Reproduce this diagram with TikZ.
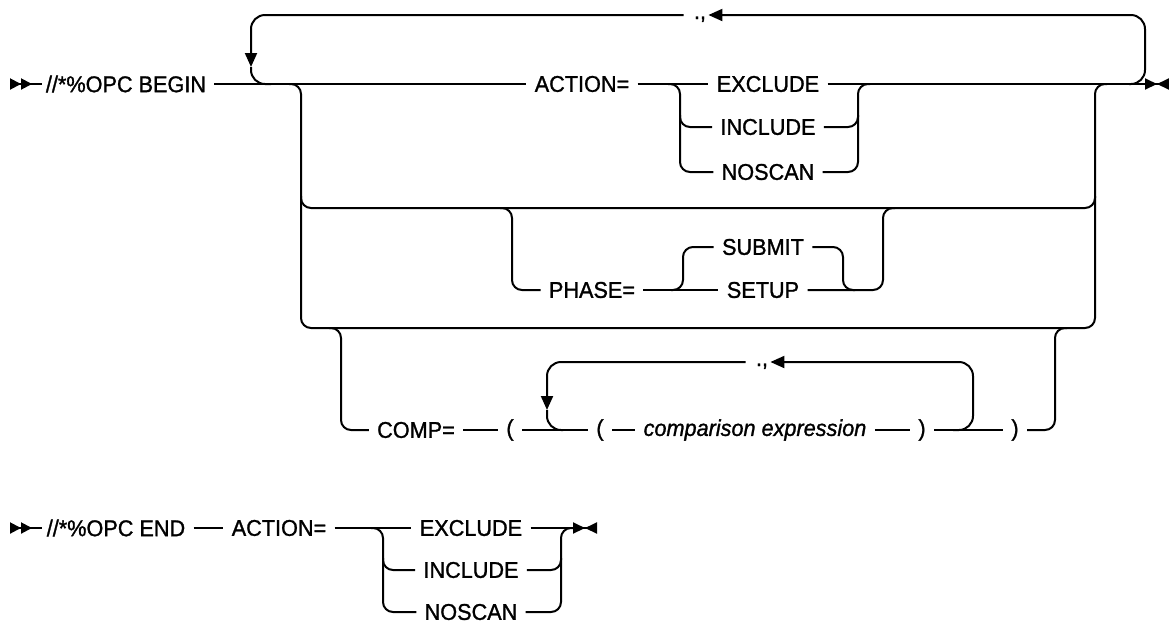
\documentclass[tikz,border=0pt]{standalone}
\usepackage{fontspec}
\setmainfont{Liberation Sans}[FakeStretch=0.95,FakeBold=1.2]
\usepackage{tikz}
\tikzset{kw/.style={inner sep=4pt,font=\fontsize{11.4}{13}\selectfont},
	punct/.style={inner sep=1pt,text height=4pt,text depth=0pt,font=\fontsize{11.4}{13}\selectfont},
	rail/.style={line width=1pt,rounded corners=5pt},
	bigrail/.style={line width=1pt,rounded corners=7pt},
	backarrow/.style={-{Triangle[length=7pt,width=6pt]}},
	startmark/.style={arrows={Triangle[reversed,length=5.5pt,width=5.5pt]Triangle[reversed,length=5.5pt,width=5.5pt]-}},
	endmark/.style={arrows={-Triangle[length=6pt,width=5.5pt]Triangle[reversed,length=6pt,width=5.5pt]}},
}
\usetikzlibrary{arrows.meta}

\begin{document}
\begin{tikzpicture}[x=0.5pt,y=-0.5pt]
	\useasboundingbox (0,0) rectangle (1169,623);
	
	%% //*%OPC BEGIN
	\coordinate (s1) at (10,84);
	\coordinate (s1e) at (42,84);
	\node[kw] (b1) at (126,84) {//*\%OPC BEGIN};
	\node[kw] (a1) at (582,84) {ACTION=};
	\node[kw] (ex1) at (768,84) {EXCLUDE};
	\node[kw] (in1) at (768,127) {INCLUDE};
	\node[kw] (no1) at (768,172) {NOSCAN};
	\node[punct] (c1) at (700,15) {.,};
	\coordinate (e1) at (1169,84);
	\coordinate (lpL) at (251,84);
	\coordinate (lpA) at (251,67);
	\coordinate (lpR) at (1145,84);
	\coordinate (sl) at (301,84);
	\coordinate (sr) at (1095,84);
	\coordinate (h1) at (680,84);
	\coordinate (h2) at (680,127);
	\coordinate (h3) at (858,84);
	\coordinate (h4) at (858,127);
	
	\draw[rail,startmark] (s1) -- (s1e);
	\path[draw,rail] (b1) edge (a1) (a1) edge (ex1);
	\draw[rail,endmark] (ex1) -- (e1);
	
	\draw[bigrail,backarrow] ([xshift=-8pt]lpR) -- (lpR) |- (c1);
	\draw[bigrail,backarrow] ([xshift=-4pt]c1.west) -| (lpA);
	\draw[bigrail] (lpA) |- ([xshift=10pt]lpL);
	
	\draw[rail] ([xshift=-6pt]h1) -- (h1) |- (no1);
	\draw[rail] ([yshift=6pt]h2) |- (in1);
	\draw[rail] (no1) -| (h3) -- ([xshift=6pt]h3);
	\draw[rail] (in1) -| ([yshift=6pt]h4);
	
	%% second and third choice
	\coordinate (p2L) at (301,208);
	\coordinate (p2R) at (1095,208);
	\coordinate (p4L) at (301,328);
	\coordinate (p4R) at (1095,328);
	\draw[rail] ([xshift=-6pt]sl) -- (sl) -- (p4L) -- (p4R) -- (sr) -- ([xshift=6pt]sr);
	\draw[rail] ([yshift=6pt]p2L) -- (p2L) -- (p2R) -- ([yshift=6pt]p2R);
	
	\node[kw] (ph) at (592,290) {PHASE=};
	\node[kw] (sub) at (763,247) {SUBMIT};
	\node[kw] (set) at (763,290) {SETUP};
	\coordinate (q1) at (512,208);
	\coordinate (q2) at (683,290);
	\coordinate (q3) at (843,290);
	\coordinate (q4) at (883,290);
	\coordinate (q5) at (883,208);
	
	\draw[rail] ([xshift=-6pt]q1) -- (q1) |- (ph);
	\path[draw,rail] (ph) edge (set);
	\draw[rail] ([xshift=-6pt]q2) -- (q2) |- (sub);
	\draw[rail] (sub) -| (q3) -- ([xshift=6pt]q3);
	\draw[rail] (set) -- (q4) -- (q5) -- ([xshift=6pt]q5);
	
	\node[kw] (cmp) at (416,430) {COMP=};
	\node[kw] (o1) at (510,430) {(};
	\node[kw] (o2) at (600,430) {(};
	\node[kw] (ce) at (755,430) {\itshape comparison expression};
	\node[kw] (cl1) at (922,430) {)};
	\node[kw] (cl2) at (1015,430) {)};
	\node[punct] (c2) at (762,362) {.,};
	\coordinate (k1) at (341,328);
	\coordinate (k2) at (1055,430);
	\coordinate (k3) at (1055,328);
	\coordinate (m1) at (547,430);
	\coordinate (m1a) at (547,410);
	\coordinate (m2) at (973,430);
	
	\draw[rail] ([xshift=-6pt]k1) -- (k1) |- (cmp);
	\path[draw,rail] (cmp) edge (o1) (o1) edge (o2) (o2) edge (ce)
	(ce) edge (cl1) (cl1) edge (cl2);
	\draw[rail] (cl2) -- (k2) -- (k3) -- ([xshift=6pt]k3);
	\draw[bigrail,backarrow] ([xshift=-10pt]m2) -- (m2) |- (c2);
	\draw[bigrail,backarrow] ([xshift=-4pt]c2.west) -| (m1a);
	\draw[bigrail] (m1a) |- ([xshift=8pt]m1);
	
	%% //*%OPC END
	\coordinate (s5) at (10,528);
	\coordinate (s5e) at (42,528);
	\node[kw] (b5) at (116,528) {//*\%OPC END};
	\node[kw] (a5) at (279,528) {ACTION=};
	\node[kw] (ex5) at (471,528) {EXCLUDE};
	\node[kw] (in5) at (471,570) {INCLUDE};
	\node[kw] (no5) at (471,612) {NOSCAN};
	\coordinate (e5) at (597,528);
	\coordinate (h51) at (383,528);
	\coordinate (h52) at (383,570);
	\coordinate (h53) at (561,528);
	\coordinate (h54) at (561,570);
	
	\draw[rail,startmark] (s5) -- (s5e);
	\path[draw,rail] (b5) edge (a5) (a5) edge (ex5);
	\draw[rail,endmark] (ex5) -- (e5);
	\draw[rail] ([xshift=-6pt]h51) -- (h51) |- (no5);
	\draw[rail] ([yshift=6pt]h52) |- (in5);
	\draw[rail] (no5) -| (h53) -- ([xshift=6pt]h53);
	\draw[rail] (in5) -| ([yshift=6pt]h54);
\end{tikzpicture}
\end{document}
